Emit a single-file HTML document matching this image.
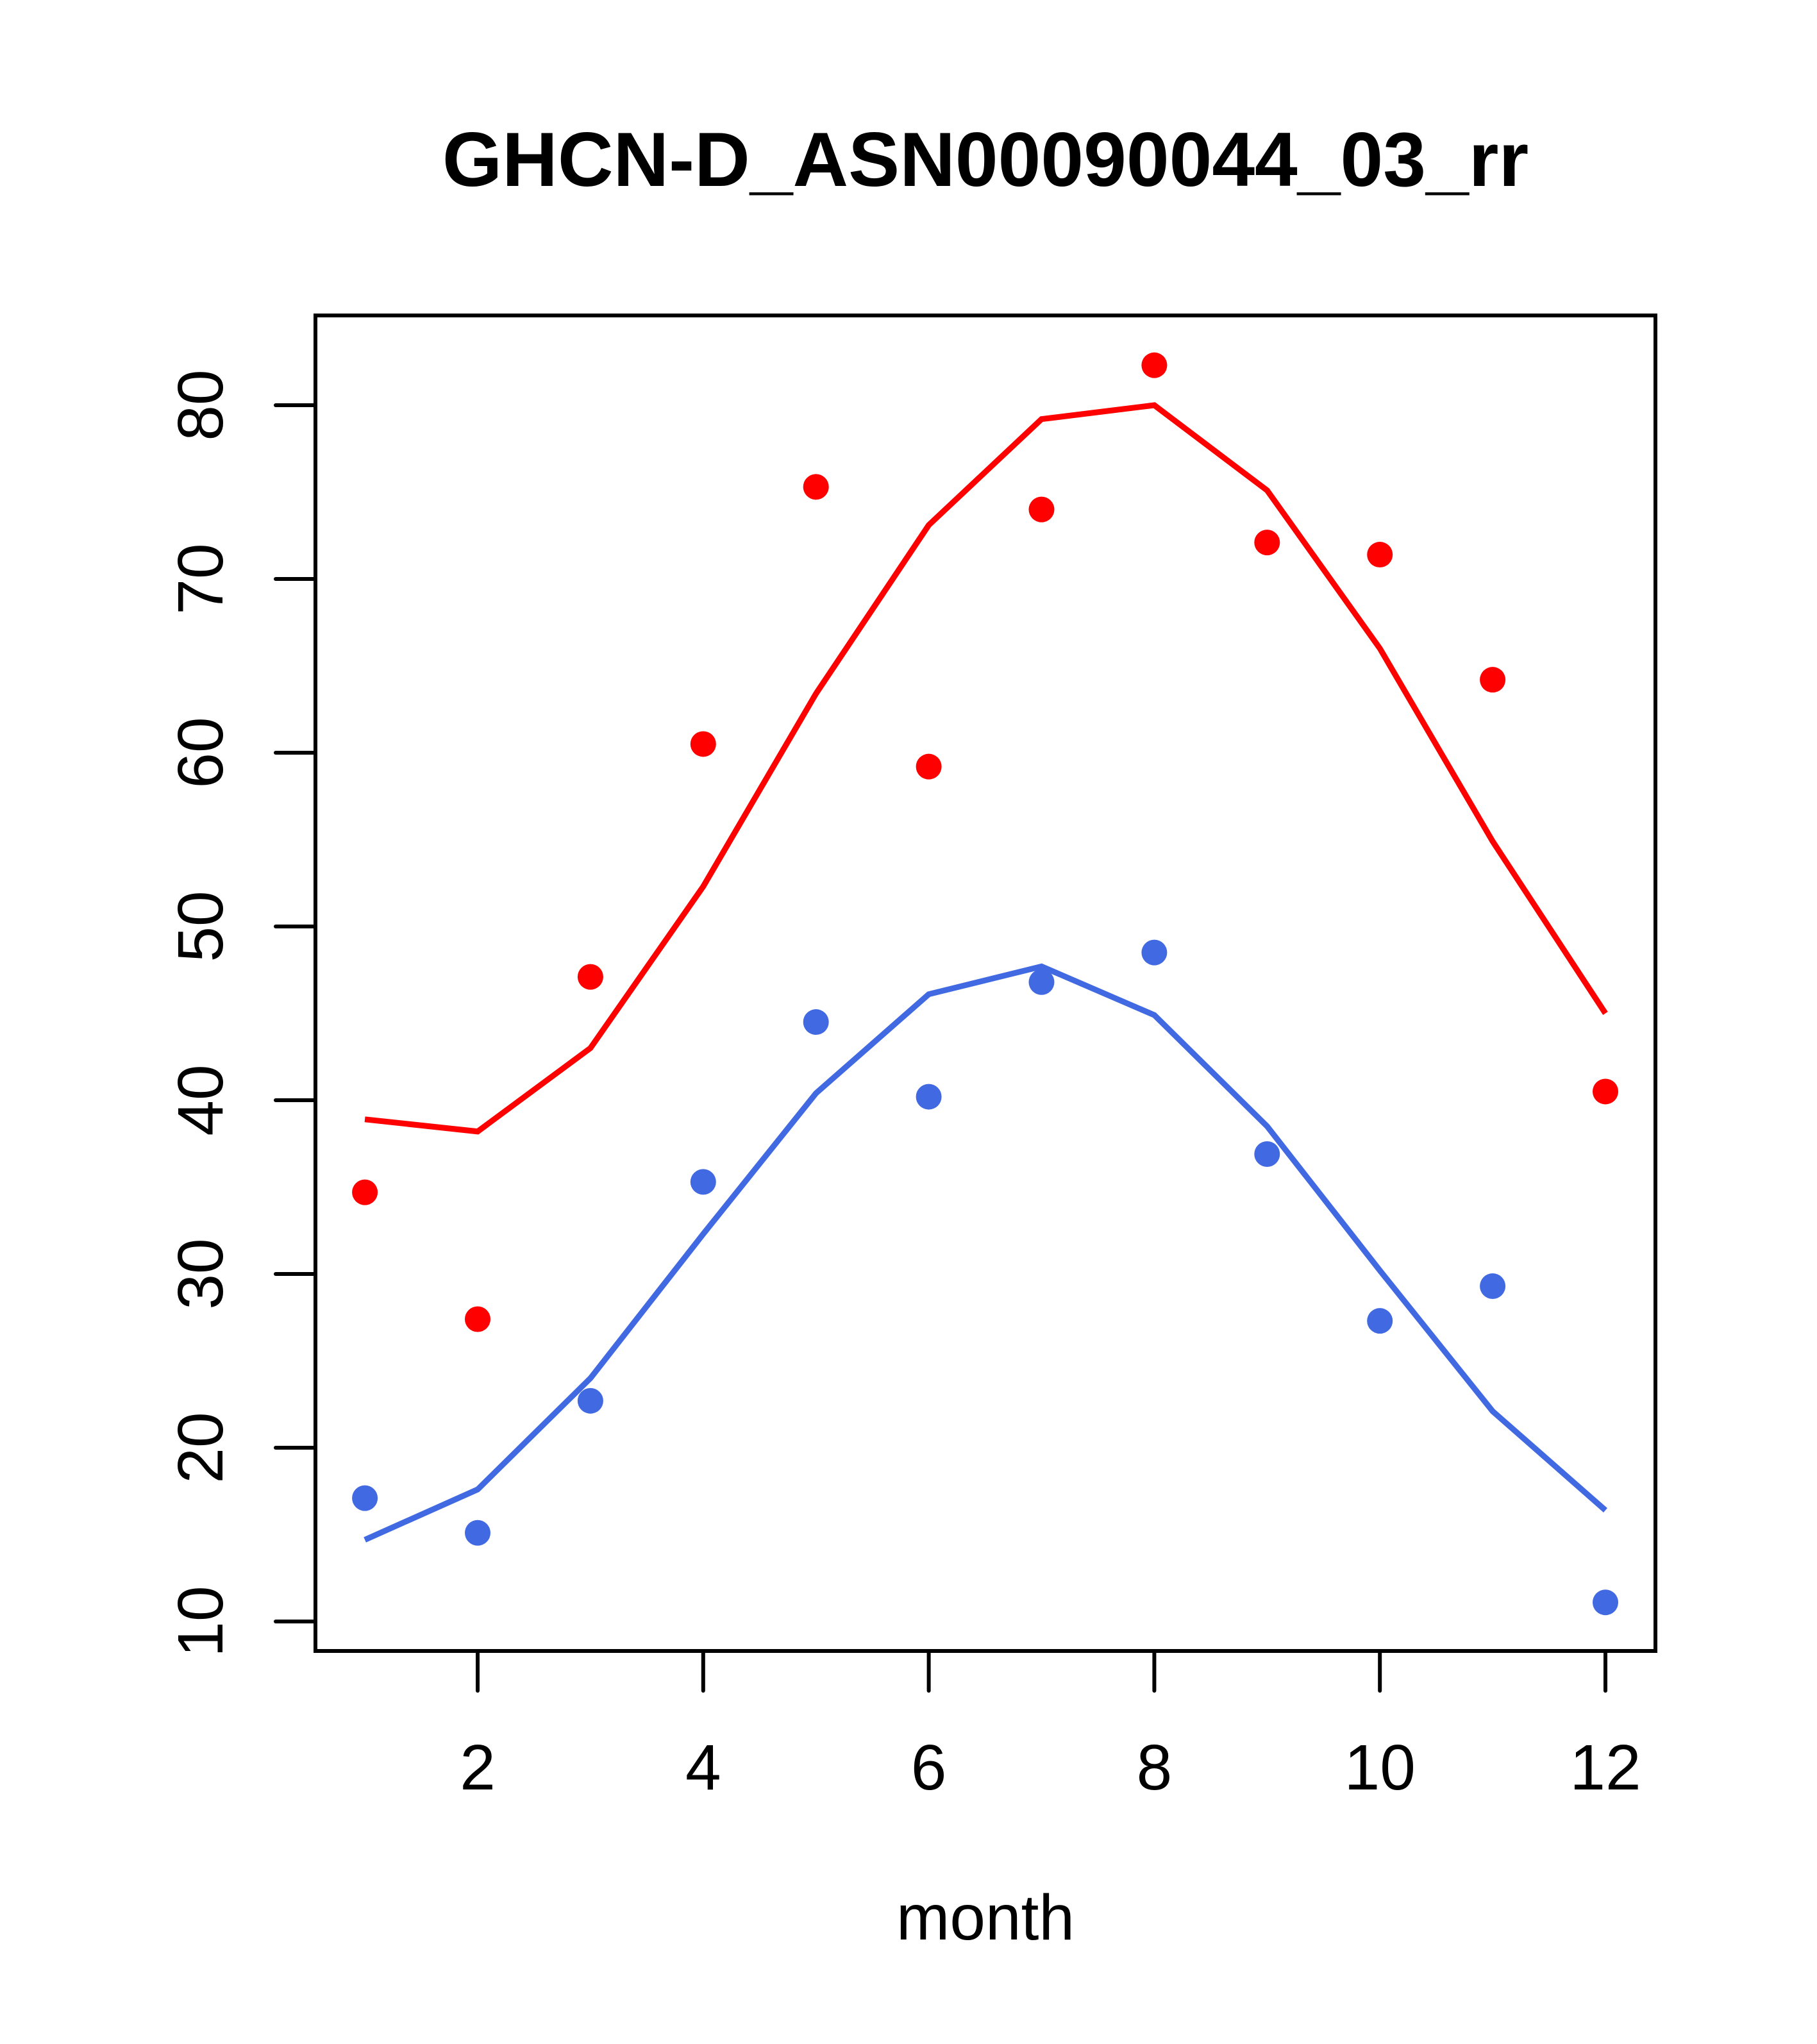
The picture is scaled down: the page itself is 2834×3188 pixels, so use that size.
<!DOCTYPE html>
<html><head><meta charset="utf-8"><style>html,body{margin:0;padding:0;background:#fff}svg{display:block}</style></head>
<body>
<svg id="chart" width="2834" height="3188" xmlns="http://www.w3.org/2000/svg" font-family="Liberation Sans, sans-serif">
<rect width="2834" height="3188" fill="#fff"/>
<text x="1537" y="290" font-size="120" font-weight="bold" text-anchor="middle">GHCN-D_ASN00090044_03_rr</text>
<text x="1537" y="3025" font-size="100" text-anchor="middle">month</text>
<g id="plot"></g>
</svg>
<script>
const months = [1,2,3,4,5,6,7,8,9,10,11,12];
const redPoints = [34.7,27.4,47.1,60.5,75.3,59.2,74.0,82.3,72.1,71.4,64.2,40.5];
const redLine = [38.9,38.2,43.0,52.3,63.4,73.1,79.2,80.0,75.1,66.0,54.9,45.0];
const bluePoints = [17.1,15.1,22.7,35.3,44.5,40.2,46.8,48.5,36.9,27.3,29.3,11.1];
const blueLine = [14.7,17.6,24.0,32.3,40.4,46.1,47.7,44.9,38.5,30.2,22.1,16.4];
const xTicks = [2,4,6,8,10,12];
const yTicks = [10,20,30,40,50,60,70,80];

const NS = "http://www.w3.org/2000/svg";
const g = document.getElementById('plot');
const L=492,R=2582,T=492,B=2575;
function sx(m){return 745+(m-2)*175.9;}
function sy(v){return 632+(80-v)*27.1;}
function mk(tag, attrs){const e=document.createElementNS(NS,tag);for(const k in attrs)e.setAttribute(k,attrs[k]);g.appendChild(e);return e;}

const box=mk('rect',{x:L,y:T,width:R-L,height:B-T,fill:'none',stroke:'#000','stroke-width':6});



xTicks.forEach(t=>{
  const l=mk('line',{x1:sx(t),x2:sx(t),y1:B,y2:B+62,stroke:'#000','stroke-width':6,'stroke-linecap':'round'});
  
  
  const tx=mk('text',{x:sx(t),y:2791,'font-size':100,'text-anchor':'middle'});
  tx.textContent=t;
  
  
});
yTicks.forEach(t=>{
  const l=mk('line',{x1:L-62,x2:L,y1:sy(t),y2:sy(t),stroke:'#000','stroke-width':6,'stroke-linecap':'round'});
  
  
  const tx=mk('text',{x:0,y:0,'font-size':100,'text-anchor':'middle',transform:'translate(347,'+sy(t)+') rotate(-90)'});
  tx.textContent=t;
  
  
});

function series(vals,color,name){
  const p=mk('polyline',{points:vals.map((v,i)=>sx(months[i])+','+sy(v)).join(' '),fill:'none',stroke:color,'stroke-width':9});
  
  
}
function pts(vals,color,name){
  vals.forEach((v,i)=>{
    const c=mk('circle',{cx:sx(months[i]),cy:sy(v),r:20,fill:color});
    
    
  });
}
series(redLine,'#ff0000','red-line');
series(blueLine,'#4169e1','blue-line');
pts(redPoints,'#ff0000','red-point');
pts(bluePoints,'#4169e1','blue-point');
</script>
</body></html>
